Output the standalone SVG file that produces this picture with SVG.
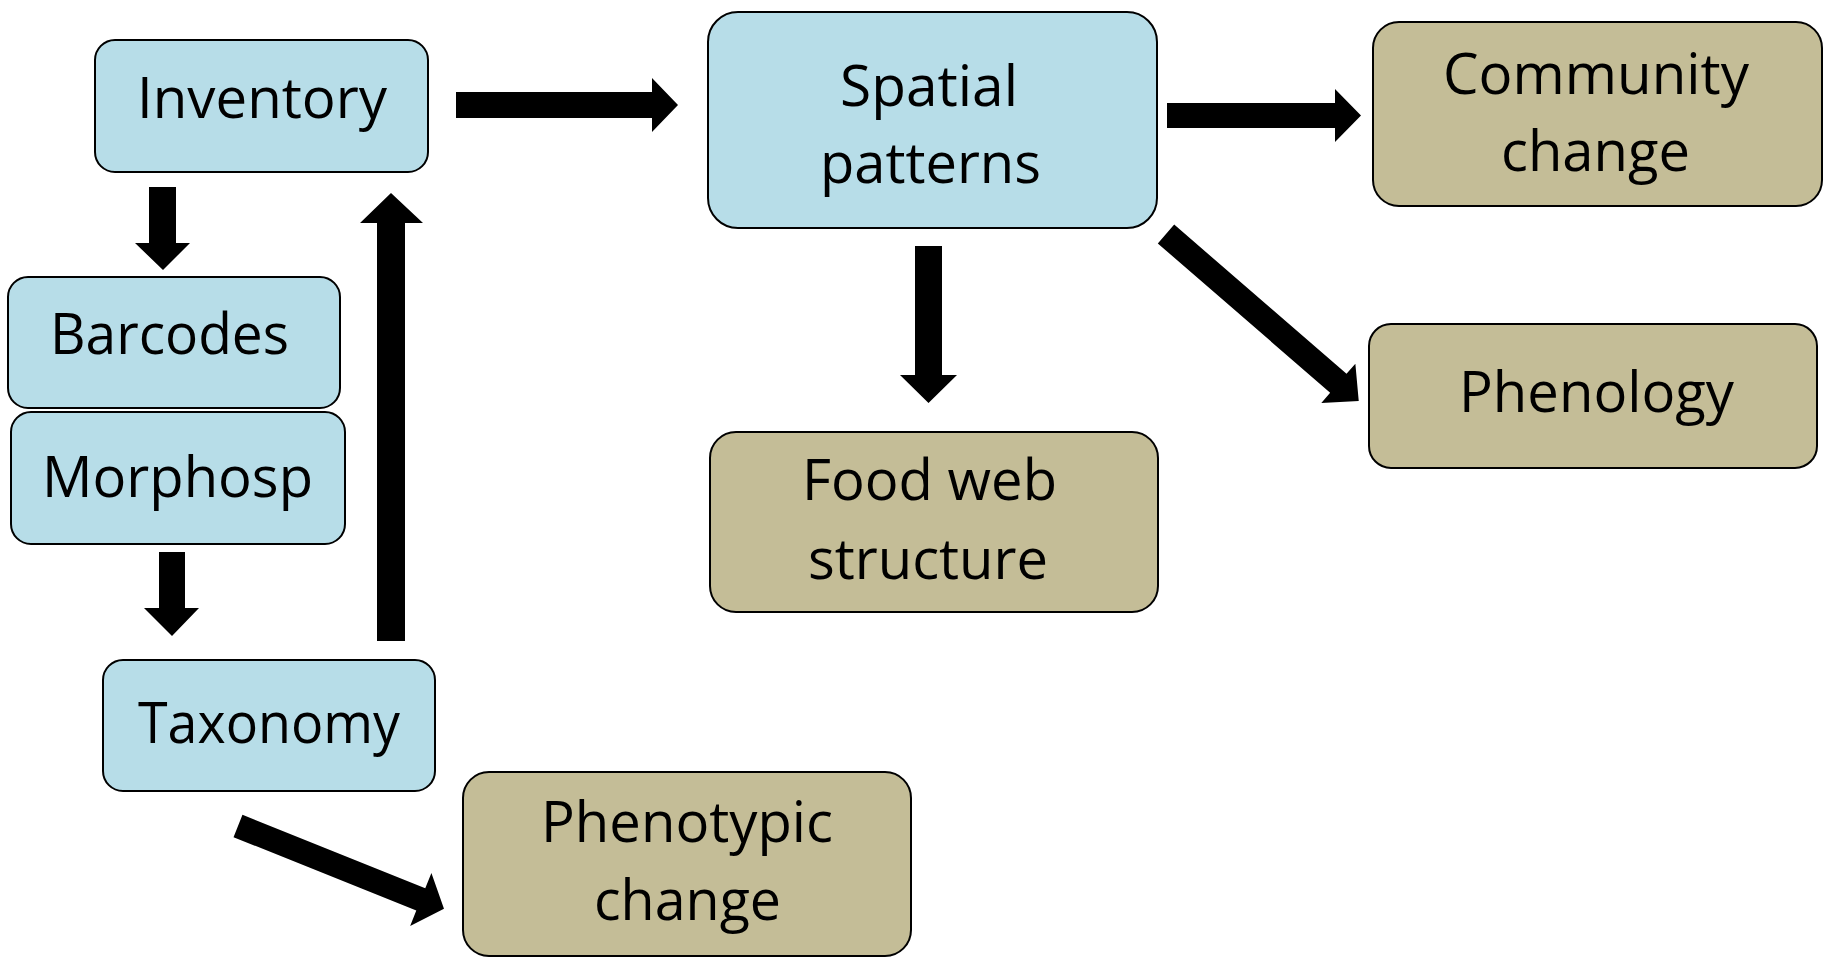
<svg xmlns="http://www.w3.org/2000/svg" width="1825" height="958" viewBox="0 0 1825 958">
<style>
.b{fill:#B7DDE8;stroke:#000;stroke-width:2}
.t{fill:#C4BD97;stroke:#000;stroke-width:2}
text{font-family:"Open Sans","Noto Sans",sans-serif;font-size:56px;fill:#000;text-anchor:middle}
.a{fill:#000}
</style>
<rect width="1825" height="958" fill="#fff"/>
<g id="inventory"><rect class="b" x="95" y="40" width="333" height="132" rx="20"/><text x="262" y="118" textLength="250" lengthAdjust="spacingAndGlyphs">Inventory</text></g>
<g id="barcodes"><rect class="b" x="8" y="277" width="332" height="131" rx="20"/><text x="169.5" y="354" textLength="239" lengthAdjust="spacingAndGlyphs">Barcodes</text></g>
<g id="morphosp"><rect class="b" x="11" y="412" width="334" height="132" rx="20"/><text x="177.5" y="497" textLength="271" lengthAdjust="spacingAndGlyphs">Morphosp</text></g>
<g id="taxonomy"><rect class="b" x="103" y="660" width="332" height="131" rx="20"/><text x="269" y="743" textLength="262" lengthAdjust="spacingAndGlyphs">Taxonomy</text></g>
<g id="phenotypic"><rect class="t" x="463" y="772" width="448" height="184" rx="26"/><text x="687" y="842" textLength="292" lengthAdjust="spacingAndGlyphs">Phenotypic</text><text x="687.5" y="920" textLength="187" lengthAdjust="spacingAndGlyphs">change</text></g>
<g id="spatial"><rect class="b" x="708" y="12" width="449" height="216" rx="30"/><text x="929" y="106" textLength="178" lengthAdjust="spacingAndGlyphs">Spatial</text><text x="930.5" y="183" textLength="221" lengthAdjust="spacingAndGlyphs">patterns</text></g>
<g id="community"><rect class="t" x="1373" y="22" width="449" height="184" rx="26"/><text x="1596" y="94" textLength="306" lengthAdjust="spacingAndGlyphs">Community</text><text x="1595.5" y="171" textLength="189" lengthAdjust="spacingAndGlyphs">change</text></g>
<g id="phenology"><rect class="t" x="1369" y="324" width="448" height="144" rx="22"/><text x="1596.5" y="412" textLength="275" lengthAdjust="spacingAndGlyphs">Phenology</text></g>
<g id="foodweb"><rect class="t" x="710" y="432" width="448" height="180" rx="26"/><text x="929.5" y="500" textLength="255" lengthAdjust="spacingAndGlyphs">Food web</text><text x="928" y="579" textLength="240" lengthAdjust="spacingAndGlyphs">structure</text></g>
<g id="connectors">
<polygon class="a" points="456,92 652,92 652,78 678,105 652,132 652,118 456,118"/>
<polygon class="a" points="1167,103 1335,103 1335,89 1361,115.5 1335,142 1335,128 1167,128"/>
<polygon class="a" points="149,187 176,187 176,243 190,243 163,270 135,243 149,243"/>
<polygon class="a" points="159,552 185,552 185,608 199,608 172,636 144,608 159,608"/>
<polygon class="a" points="915,246 942,246 942,375 957,375 928.5,403 900,375 915,375"/>
<polygon class="a" points="377,641 405,641 405,223 423,223 391,193 360,223 377,223"/>
<polygon class="a" transform="translate(238,826) rotate(21.9)" points="0,-12 197,-12 197,-28.5 222,0 197,28.5 197,12 0,12"/>
<polygon class="a" transform="translate(1166,234) rotate(40.9)" points="0,-12.5 228,-12.5 228,-26 255,0 228,26 228,12.5 0,12.5"/>
</g>
</svg>
